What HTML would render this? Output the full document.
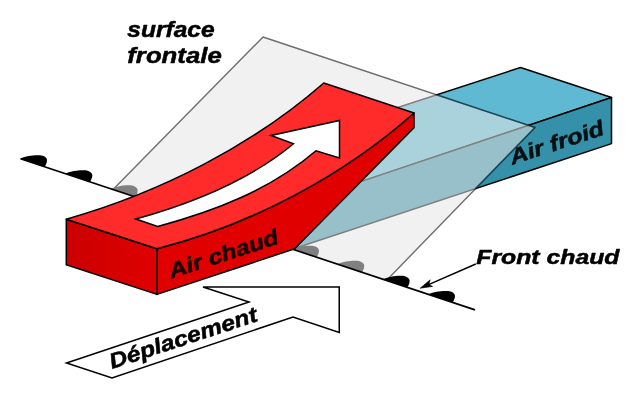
<!DOCTYPE html>
<html><head><meta charset="utf-8"><title>Front chaud</title>
<style>html,body{margin:0;padding:0;background:#fff;}svg{display:block}</style></head>
<body><svg width="640" height="400" viewBox="0 0 640 400">
<rect width="640" height="400" fill="#fff"/>
<path d="M520.5,67.5 L611.5,97.5 L340,188.6 L380,113.2 Z" fill="#5fb9d2" stroke="#000" stroke-width="1.5" stroke-linejoin="round"/>
<path d="M611.5,97.5 L611.5,143.6 L296,248 L340,188.6 Z" fill="#3591aa" stroke="#000" stroke-width="1.5" stroke-linejoin="round"/>
<path d="M113,189.4 L263,37 L535,127.5 L386.5,280.4 Z" fill="#e6e6e6" fill-opacity="0.555" stroke="none"/>
<path d="M113,189.4 L263,37 L535,127.5 L386.5,280.4" fill="none" stroke="#000" stroke-opacity="0.56" stroke-width="1.4" stroke-linejoin="round"/>
<path d="M436.5,94.8 L535,127.5 L475.5,188.6" fill="none" stroke="#063c50" stroke-opacity="0.5" stroke-width="1.5" stroke-linejoin="round"/>
<path transform="translate(20.00,158.50)" d="M0,0 C3,-1 6,-2 8.6,-2.5 C12,-3.1 15,-3.4 18.9,-3.3 C20.5,-3.2 22.3,-2.9 23.5,-2.4 C25.6,-1.4 27,-0.2 27,1.8 C27,3.4 26.6,4.8 25.9,6 L24.7,8.3 Z" fill="#000"/>
<path transform="translate(65.33,173.58)" d="M0,0 C3,-1 6,-2 8.6,-2.5 C12,-3.1 15,-3.4 18.9,-3.3 C20.5,-3.2 22.3,-2.9 23.5,-2.4 C25.6,-1.4 27,-0.2 27,1.8 C27,3.4 26.6,4.8 25.9,6 L24.7,8.3 Z" fill="#000"/>
<path transform="translate(110.66,188.66)" d="M0,0 C3,-1 6,-2 8.6,-2.5 C12,-3.1 15,-3.4 18.9,-3.3 C20.5,-3.2 22.3,-2.9 23.5,-2.4 C25.6,-1.4 27,-0.2 27,1.8 C27,3.4 26.6,4.8 25.9,6 L24.7,8.3 Z" fill="#808080"/>
<path transform="translate(291.98,248.99)" d="M0,0 C3,-1 6,-2 8.6,-2.5 C12,-3.1 15,-3.4 18.9,-3.3 C20.5,-3.2 22.3,-2.9 23.5,-2.4 C25.6,-1.4 27,-0.2 27,1.8 C27,3.4 26.6,4.8 25.9,6 L24.7,8.3 Z" fill="#808080"/>
<path transform="translate(337.31,264.07)" d="M0,0 C3,-1 6,-2 8.6,-2.5 C12,-3.1 15,-3.4 18.9,-3.3 C20.5,-3.2 22.3,-2.9 23.5,-2.4 C25.6,-1.4 27,-0.2 27,1.8 C27,3.4 26.6,4.8 25.9,6 L24.7,8.3 Z" fill="#808080"/>
<path transform="translate(382.64,279.15)" d="M0,0 C3,-1 6,-2 8.6,-2.5 C12,-3.1 15,-3.4 18.9,-3.3 C20.5,-3.2 22.3,-2.9 23.5,-2.4 C25.6,-1.4 27,-0.2 27,1.8 C27,3.4 26.6,4.8 25.9,6 L24.7,8.3 Z" fill="#000"/>
<path transform="translate(427.97,294.23)" d="M0,0 C3,-1 6,-2 8.6,-2.5 C12,-3.1 15,-3.4 18.9,-3.3 C20.5,-3.2 22.3,-2.9 23.5,-2.4 C25.6,-1.4 27,-0.2 27,1.8 C27,3.4 26.6,4.8 25.9,6 L24.7,8.3 Z" fill="#000"/>
<path d="M20.5,158.7 L475,309.9" stroke="#000" stroke-width="1.7" fill="none"/>
<defs><linearGradient id="gf" x1="66" y1="0" x2="157" y2="0" gradientUnits="userSpaceOnUse"><stop offset="0" stop-color="#cc0000"/><stop offset="1" stop-color="#df0000"/></linearGradient></defs>
<path d="M157,248.7 C253.7,224.1 345,174.3 414,113 L414,127.6 L294.6,248.8 L157,294.4 Z" fill="#e00000" stroke="#000" stroke-width="1.5" stroke-linejoin="round"/>
<path d="M66.3,219.2 L157,248.7 L157,294.4 L66.3,264.8 Z" fill="url(#gf)" stroke="#000" stroke-width="1.5" stroke-linejoin="round"/>
<path d="M66.3,219.2 C161.6,192.2 253,144.9 323.75,83 L414,113 C345,174.3 253.7,224.1 157,248.7 Z" fill="#ff2a2a" stroke="#000" stroke-width="1.5" stroke-linejoin="round"/>
<path d="M135.8,219 C190,204 250,180 293.5,143.75 L271,135.5 L339.5,120.5 L339.5,158 L316,150.75 C270,190 215,211 157.7,226.5 Z" fill="#fff" stroke="#000" stroke-width="1.5" stroke-linejoin="miter"/>
<path d="M66.5,363 L249,302 L203,287 L339.25,287 L339.25,332.5 L293,317 L112,378 Z" fill="#fff" stroke="#000" stroke-width="1.5"/>
<path d="M475.8,264 L428,284.9" stroke="#000" stroke-width="1.5" fill="none"/>
<path d="M420.2,288.2 L430.2,279.8 L428.8,284.6 L432.6,286.4 Z" fill="#000" stroke="#000" stroke-width="0.6" stroke-linejoin="round"/>
<g opacity="0.999">
<text x="127.3" y="37.0" style="font-family:'Liberation Sans',sans-serif;font-weight:bold;font-style:italic;fill:#000;stroke:#000;stroke-width:0.5px;stroke-linejoin:round;font-size:21.5px" textLength="87.3" lengthAdjust="spacingAndGlyphs">surface</text>
<text x="127.3" y="63.3" style="font-family:'Liberation Sans',sans-serif;font-weight:bold;font-style:italic;fill:#000;stroke:#000;stroke-width:0.5px;stroke-linejoin:round;font-size:21.5px" textLength="94.4" lengthAdjust="spacingAndGlyphs">frontale</text>
<text x="476.3" y="264.4" style="font-family:'Liberation Sans',sans-serif;font-weight:bold;font-style:italic;fill:#000;stroke:#000;stroke-width:0.5px;stroke-linejoin:round;font-size:20.7px" textLength="143.2" lengthAdjust="spacingAndGlyphs">Front chaud</text>
<text transform="translate(112,369) rotate(-18.2)" style="font-family:'Liberation Sans',sans-serif;font-weight:bold;font-style:italic;fill:#000;stroke:#000;stroke-width:0.5px;stroke-linejoin:round;font-size:21.5px" textLength="154.5" lengthAdjust="spacingAndGlyphs">Déplacement</text>
<text transform="translate(171.6,278.6) rotate(-18.2)" opacity="0.9" style="font-family:'Liberation Sans',sans-serif;font-weight:bold;font-style:italic;fill:#000;stroke:#000;stroke-width:0.5px;stroke-linejoin:round;font-size:21.5px" textLength="114" lengthAdjust="spacingAndGlyphs">Air chaud</text>
<text transform="translate(512.4,164.8) rotate(-18.2)" opacity="0.9" style="font-family:'Liberation Sans',sans-serif;font-weight:bold;font-style:italic;fill:#000;stroke:#000;stroke-width:0.5px;stroke-linejoin:round;font-size:21.5px" textLength="98" lengthAdjust="spacingAndGlyphs">Air froid</text>
</g>
</svg></body></html>
